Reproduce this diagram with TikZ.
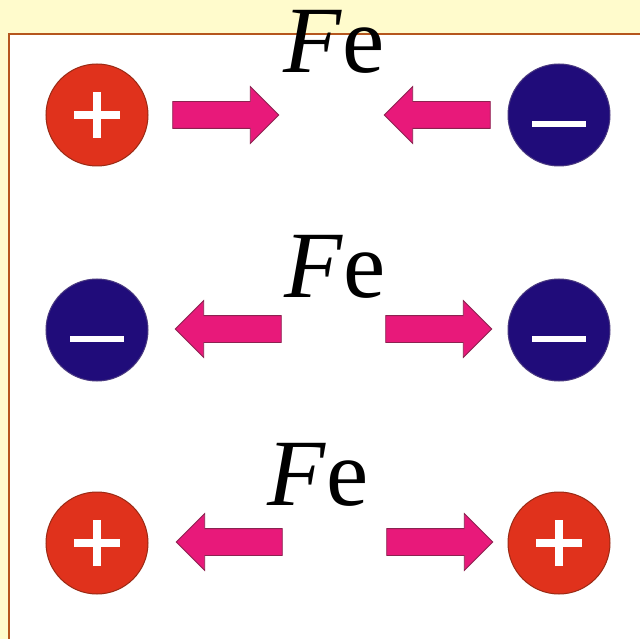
\documentclass[tikz,border=0pt]{standalone}
\usepackage{fontspec}
\setmainfont{Liberation Serif}
\usetikzlibrary{shapes.arrows}
\definecolor{slidebg}{HTML}{FFFBCC}
\definecolor{framebrown}{HTML}{B5561E}
\definecolor{chargered}{HTML}{E0321C}
\definecolor{redstroke}{HTML}{9A2A14}
\definecolor{chargeblue}{HTML}{200C7A}
\definecolor{bluestroke}{HTML}{4A3A80}
\definecolor{forcepink}{HTML}{E8197A}
\definecolor{pinkstroke}{HTML}{8C2250}
\tikzset{
  charge/.style={circle, minimum size=102pt, inner sep=0pt, line width=1pt},
  poscharge/.style={charge, fill=chargered, draw=redstroke,
    path picture={\draw[white, line width=8pt]
      ([xshift=-23pt]path picture bounding box.center) -- ([xshift=23pt]path picture bounding box.center)
      ([yshift=-23pt]path picture bounding box.center) -- ([yshift=23pt]path picture bounding box.center);}},
  negcharge/.style={charge, fill=chargeblue, draw=bluestroke,
    path picture={\draw[white, line width=5.5pt]
      ([xshift=-27pt,yshift=-9pt]path picture bounding box.center) -- ([xshift=27pt,yshift=-9pt]path picture bounding box.center);}},
  pusharrow/.style={single arrow, fill=forcepink, draw=pinkstroke, line width=0.8pt,
    inner xsep=0pt, inner ysep=13pt, single arrow head extend=15pt,
    minimum height=106pt, anchor=center},
  leftarrow/.style={pusharrow, shape border rotate=180},
  forcelabel/.style={anchor=base west, inner sep=0pt, font=\fontsize{95}{95}\selectfont}
}
\begin{document}
\begin{tikzpicture}[x=1pt, y=-1pt]
  \useasboundingbox (0,0) rectangle (640,639);
  \fill[slidebg] (0,0) rectangle (640,639);
  \filldraw[fill=white, draw=framebrown, line width=2pt] (9,34) rectangle (650,650);

  % Attraction
  \node[poscharge] (p1) at (97,115) {};
  \node[negcharge] (n1) at (559,115) {};
  \node[pusharrow] (a1) at (219,115) {};
  \node[leftarrow] (b1) at (444,115) {};
  \node[forcelabel] (fe1) at (283,73) {\textit{F}e};

  % Repulsion, negative
  \node[negcharge] (n2) at (97,330) {};
  \node[negcharge] (n3) at (559,330) {};
  \node[leftarrow] (a2) at (235,329) {};
  \node[pusharrow] (b2) at (432,329) {};
  \node[forcelabel] (fe2) at (284,297) {\textit{F}e};

  % Repulsion, positive
  \node[poscharge] (p2) at (97,543) {};
  \node[poscharge] (p3) at (559,543) {};
  \node[leftarrow] (a3) at (236,542) {};
  \node[pusharrow] (b3) at (433,542) {};
  \node[forcelabel] (fe3) at (267,505) {\textit{F}e};
\end{tikzpicture}
\end{document}
